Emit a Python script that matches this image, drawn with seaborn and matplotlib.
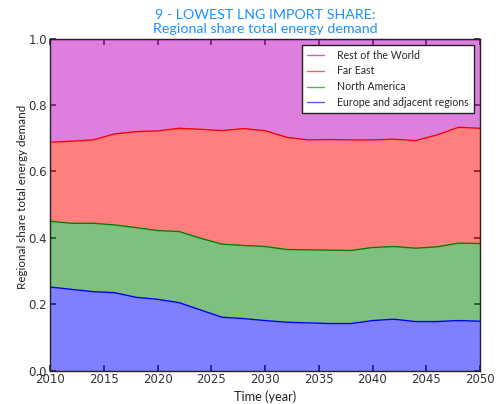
import numpy as np
import pandas as pd
import matplotlib
matplotlib.use("Agg")
import matplotlib.pyplot as plt
from matplotlib.lines import Line2D
import seaborn as sns

# Regional shares of total energy demand (each year sums to 1)
years = [2010, 2012, 2014, 2016, 2018, 2020, 2022, 2024, 2026, 2028, 2030,
         2032, 2034, 2036, 2038, 2040, 2042, 2044, 2046, 2048, 2050]
europe = [0.252, 0.245, 0.238, 0.235, 0.221, 0.215, 0.205, 0.183, 0.161, 0.157, 0.151,
          0.146, 0.144, 0.142, 0.142, 0.151, 0.155, 0.148, 0.148, 0.151, 0.149]
north_america = [0.198, 0.199, 0.206, 0.204, 0.210, 0.207, 0.214, 0.216, 0.220, 0.220, 0.223,
                 0.219, 0.220, 0.221, 0.220, 0.220, 0.219, 0.221, 0.225, 0.233, 0.234]
far_east = [0.238, 0.247, 0.251, 0.274, 0.289, 0.300, 0.311, 0.328, 0.342, 0.352, 0.349,
            0.338, 0.331, 0.333, 0.333, 0.324, 0.323, 0.324, 0.337, 0.349, 0.347]
rest_of_world = [0.312, 0.309, 0.305, 0.287, 0.280, 0.278, 0.270, 0.273, 0.277, 0.271, 0.277,
                 0.297, 0.305, 0.304, 0.305, 0.305, 0.303, 0.307, 0.290, 0.267, 0.270]

regions = ["Europe and adjacent regions", "North America", "Far East", "Rest of the World"]
colors = [(0.0, 0.0, 1.0), (0.0, 0.5, 0.0), (1.0, 0.0, 0.0), (0.75, 0.0, 0.75)]
x_ticks = [2010, 2015, 2020, 2025, 2030, 2035, 2040, 2045, 2050]
y_ticks = [0.0, 0.2, 0.4, 0.6, 0.8, 1.0]

sns.set_theme(style="ticks")
plt.rcParams.update({
    "font.family": ["DejaVu Sans"],
    "axes.edgecolor": "#222222",
    "axes.linewidth": 1.0,
    "xtick.direction": "in",
    "ytick.direction": "in",
    "xtick.top": True,
    "ytick.right": True,
    "xtick.major.size": 4,
    "ytick.major.size": 4,
    "xtick.color": "#333333",
    "ytick.color": "#333333",
})

fig = plt.figure(figsize=(5, 4.04), dpi=100)
ax = fig.add_axes([0.1, 0.0824, 0.86, 0.822])

shares = np.array([europe, north_america, far_east, rest_of_world])
cumulative = np.cumsum(shares, axis=0)

# Stacked areas
lower = np.zeros(len(years))
for top, c in zip(cumulative, colors):
    ax.fill_between(years, lower, top, color=c, alpha=0.5, linewidth=0)
    lower = top

# Boundary lines of each stacked layer
df = pd.DataFrame({
    "year": np.tile(years, len(regions)),
    "share": cumulative.ravel(),
    "region": np.repeat(regions, len(years)),
})
sns.lineplot(data=df, x="year", y="share", hue="region",
             palette=dict(zip(regions, colors)), linewidth=1.0,
             legend=False, ax=ax)

ax.set_xlim(2010, 2050)
ax.set_ylim(0, 1)
ax.set_xticks(x_ticks)
ax.set_yticks(y_ticks)
ax.set_yticklabels([f"{v:.1f}" for v in y_ticks])
ax.tick_params(labelsize=8.5, pad=2)

ax.set_xlabel("Time (year)",
              fontdict={"family": ["Lato", "DejaVu Sans"], "size": 9.2, "color": "#222222"},
              labelpad=3)
ax.set_ylabel("Regional share total energy demand",
              fontdict={"family": ["Lato", "DejaVu Sans"], "size": 8.4, "color": "#222222"})
ax.yaxis.set_label_coords(-0.05, 0.523)

ax.set_title("9 - LOWEST LNG IMPORT SHARE:\nRegional share total energy demand",
             fontdict={"family": ["Lato", "DejaVu Sans"], "size": 10.3},
             color="#1E90FF", pad=4, linespacing=1.2)

handles = [Line2D([], [], color=c, alpha=0.65, linewidth=1.0) for c in colors]
leg = ax.legend(handles[::-1], regions[::-1], loc="upper right",
                prop={"family": ["Lato", "DejaVu Sans"], "size": 7.6},
                frameon=True, fancybox=False, framealpha=1, edgecolor="#222222",
                borderaxespad=0.6, handlelength=1.6, handletextpad=1.25,
                borderpad=0.45, labelspacing=0.45)
leg.get_frame().set_linewidth(1.0)

fig.savefig("out.png", dpi=100)
